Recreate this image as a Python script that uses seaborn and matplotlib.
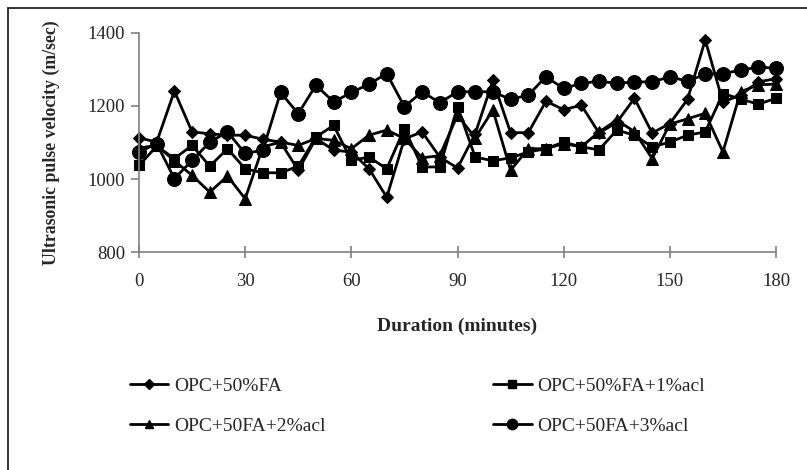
import numpy as np
import pandas as pd
import matplotlib
matplotlib.use("Agg")
import matplotlib.pyplot as plt
import seaborn as sns
from matplotlib.lines import Line2D
from matplotlib.patches import Rectangle

duration = list(range(0, 181, 5))

opc_50fa = [1113, 1101, 1241, 1129, 1124, 1120, 1120, 1109, 1101, 1024, 1111, 1079, 1074,
            1028, 950, 1110, 1129, 1060, 1030, 1124, 1270, 1127, 1127, 1213, 1190, 1202,
            1126, 1155, 1221, 1126, 1152, 1218, 1381, 1211, 1230, 1266, 1275]
opc_50fa_1acl = [1037, 1090, 1056, 1092, 1035, 1083, 1028, 1017, 1017, 1035, 1115, 1147, 1051,
                 1060, 1028, 1138, 1033, 1033, 1198, 1060, 1050, 1058, 1074, 1083, 1101, 1088,
                 1080, 1134, 1120, 1088, 1101, 1120, 1129, 1234, 1219, 1205, 1221]
opc_50fa_2acl = [1085, 1092, 1050, 1010, 964, 1008, 946, 1088, 1101, 1092, 1111, 1106, 1083,
                 1120, 1134, 1111, 1058, 1064, 1175, 1113, 1189, 1024, 1083, 1083, 1097, 1088,
                 1129, 1161, 1130, 1056, 1150, 1165, 1180, 1074, 1239, 1258, 1260]
opc_50fa_3acl = [1074, 1097, 1001, 1051, 1101, 1129, 1070, 1079, 1237, 1179, 1257, 1211, 1237,
                 1260, 1289, 1198, 1239, 1209, 1239, 1239, 1239, 1218, 1230, 1280, 1248, 1262,
                 1268, 1262, 1266, 1266, 1280, 1268, 1287, 1289, 1298, 1307, 1303]

labels = ["OPC+50%FA", "OPC+50%FA+1%acl", "OPC+50FA+2%acl", "OPC+50FA+3%acl"]
series = [opc_50fa, opc_50fa_1acl, opc_50fa_2acl, opc_50fa_3acl]
markers = ["D", "s", "^", "o"]
msizes = [6.5, 7, 8, 10]

sns.set_theme(style="white")
plt.rcParams["font.family"] = ["Liberation Serif", "DejaVu Serif"]

fig = plt.figure(figsize=(8.07, 4.70), dpi=100)
ax = fig.add_axes([139 / 807, 1 - 252 / 470, (776 - 139) / 807, (252 - 33) / 470])

for lab, vals, m, ms in zip(labels, series, markers, msizes):
    df = pd.DataFrame({"Duration": duration, "Velocity": vals})
    sns.lineplot(data=df, x="Duration", y="Velocity", ax=ax, color="black",
                 linewidth=2.0, marker=m, markersize=ms, markeredgecolor="black",
                 markerfacecolor="black", clip_on=False, label=lab, legend=False)

ax.set_xlim(0, 180)
ax.set_ylim(800, 1400)
ax.set_xticks(range(0, 181, 30))
ax.set_yticks(range(800, 1401, 200))
for s in ["top", "right"]:
    ax.spines[s].set_visible(False)
for s in ["left", "bottom"]:
    ax.spines[s].set_color("#808080")
    ax.spines[s].set_linewidth(1.2)
ax.tick_params(axis="y", direction="out", length=6, width=1.2, color="#808080",
               labelsize=13.5, pad=4, left=True)
ax.tick_params(axis="x", direction="inout", length=8, width=1.2, color="#808080",
               labelsize=13.5, pad=11, bottom=True)
ax.set_xlabel("Duration (minutes)", fontsize=14, fontweight="bold", labelpad=20)
ax.set_ylabel("Ultrasonic pulse velocity (m/sec)", fontsize=12.8, fontweight="bold", labelpad=20)
ax.grid(False)

handles = [Line2D([0], [0], color="black", linewidth=2.0, marker=m, markersize=ms * 0.75)
           for m, ms in zip(markers, msizes)]
order = [0, 2, 1, 3]
leg = fig.legend([handles[i] for i in order], [labels[i] for i in order], loc="upper left",
                 bbox_to_anchor=(112 / 807, 1 - 360 / 470),
                 ncol=2, frameon=False, fontsize=14, handlelength=2.0, handletextpad=0.3,
                 columnspacing=8.6, labelspacing=1.15)

fig.add_artist(Rectangle((8 / 807, -0.2), 1.2, 1.2 - 7.5 / 470, transform=fig.transFigure,
                         fill=False, edgecolor="#222222", linewidth=1.3))

fig.savefig("out.png", dpi=100)
